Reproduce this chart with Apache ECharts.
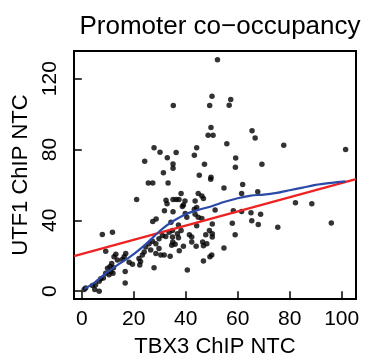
<!DOCTYPE html>
<html>
<head>
<meta charset="utf-8">
<script src="https://cdn.jsdelivr.net/npm/echarts@6/dist/echarts.min.js"></script>
<style>html,body{margin:0;padding:0;background:#fff}#c{width:366px;height:363px}</style>
</head>
<body>
<div id="c"></div>
<script>
const titleText = 'Promoter co\u2212occupancy';
const xName = 'TBX3 ChIP NTC';
const yName = 'UTF1 ChIP NTC';
const xTicks = [0, 20, 40, 60, 80, 100];
const yTicks = [0, 40, 80, 120];

const pointX = [52.2,35.2,50.1,49.2,57.3,56.7,49.7,48.6,50.5,65.5,66.7,55.8,27.8,30.1,36.3,44.2,77.7,101.5,69.3,82.2,
88.5,68.8,75.4,96,47.2,59.2,59.1,49.7,32.9,24.2,43.3,35.1,35.1,31.4,45.2,49.6,25.6,27.3,33.2,21.1,
32.4,32.8,31.8,35.1,28.6,27.3,35.1,54.7,61.9,61.5,67.7,38.2,44.8,46.2,46.8,36.3,37.4,39.7,43.6,39.1,
38.7,44.2,43.3,51.3,58.3,65.1,39.8,40.4,43.6,44.8,46.2,37.2,50.2,57.9,65.4,67.9,44.2,36.8,38.2,37.2,
35,34.6,35.9,41.4,42.3,42.3,44,39.1,37.5,34,47.7,49.1,50.2,50.2,46.5,48.1,46.8,59,54.7,50,
49.3,46.8,40.6,7.9,11.8,9.2,13.1,12.4,16.9,16.3,15.6,13.7,11.5,10.9,9.9,12.2,11.2,12,9.2,10.5,
8.3,7.3,6.7,5.3,4.1,1.5,0.9,5,6.7,16.7,16.7,18.2,19.5,22,22.6,22.3,24,23.3,27.8,24.6,
25.9,27.2,28.5,29.7,31,32.3,33.6,34.9,26.5,28.5,29.7,30.4,31.7,34.9,34.3,61.5];
const pointY = [130.6,104.8,110,104.8,108.2,105,92.4,88,88,90.6,86.5,83.2,81,78.5,78.3,81,82.4,80,71.7,50,
49.4,43.5,36.1,38.5,71.7,75.2,70,64.3,75.4,73.3,76.7,71.8,69.4,66.8,65.4,63.2,61.1,61.1,61.1,51.8,
51.3,49.4,45.4,44.8,40.7,39.4,51.7,58.3,60.2,55.2,56.1,55.2,55.2,53.7,52.4,51.8,51.8,50.9,50.9,48.7,
47.8,47.2,46.3,45.9,45.4,44.3,43.9,41.7,43.5,41.7,41.1,37.4,38,38.3,39.8,37.6,37,32.4,34.3,30.2,
27.8,25.9,26.5,31.8,30.6,27.8,25.4,25.4,22.8,19.8,31.8,34.3,32.4,30.6,27.8,26.8,25.6,31.8,24.4,20.4,
19.4,17,12,32,33.3,22.6,20.9,19.4,21.3,19.4,17.9,17.6,15.7,13.9,12.9,13.3,11.1,10.2,10.2,9.3,
7.4,7,5.6,3.7,3.2,1.8,0.9,0.9,0,11.1,4.6,16.3,15.2,18.5,16.7,14.8,22.2,20.4,13.3,25,
26.8,28.2,26.8,29.6,31.5,30.9,33.3,34.3,23.2,21.3,24.1,20.4,20.4,30.6,38.9,45];

const fitX = [-3, 105.5];
const fitY = [19.8, 63.3];

const smoothX = [1, 5, 10, 15, 20, 25, 30, 35, 40, 45, 50, 55, 60, 65, 70, 75, 80, 85, 90, 95, 101.5];
const smoothY = [1.3, 5, 11, 16, 21, 27, 34, 39.5, 43.5, 46, 48, 50.5, 52.5, 54, 54.5, 55.5, 57, 58.5, 60, 61, 62];

const FONT = 'Liberation Sans, Arial, Helvetica, sans-serif';
const chart = echarts.init(document.getElementById('c'), null, {renderer: 'canvas'});
chart.setOption({
  animation: false,
  backgroundColor: '#ffffff',
  title: {
    text: titleText, left: 215, textAlign: 'center', top: 9,
    textStyle: {fontFamily: FONT, fontSize: 26, fontWeight: 'normal', color: '#000'}
  },
  grid: {left: 74, right: 10, top: 51, bottom: 60, show: true, borderColor: '#000', borderWidth: 2, backgroundColor: 'transparent'},
  xAxis: {
    type: 'value', min: -3, max: 105.5,
    name: xName, nameLocation: 'middle', nameGap: 37,
    nameTextStyle: {fontFamily: FONT, fontSize: 22, color: '#000'},
    axisLine: {show: false},
    axisTick: {show: true, length: 7, lineStyle: {color: '#000', width: 1.5}, customValues: xTicks},
    axisLabel: {fontFamily: FONT, fontSize: 21, color: '#000', margin: 10, customValues: xTicks},
    splitLine: {show: false}
  },
  yAxis: {
    type: 'value', min: -4.4, max: 135.6,
    name: yName, nameLocation: 'middle', nameGap: 40, nameRotate: 90,
    nameTextStyle: {fontFamily: FONT, fontSize: 22, color: '#000'},
    axisLine: {show: false},
    axisTick: {show: true, length: 7, lineStyle: {color: '#000', width: 1.5}, customValues: yTicks},
    axisLabel: {fontFamily: FONT, fontSize: 21, color: '#000', margin: 13, rotate: 90, customValues: yTicks},
    splitLine: {show: false}
  },
  series: [
    {
      type: 'scatter', symbol: 'circle', symbolSize: 5.5,
      itemStyle: {color: '#000'},
      data: pointX.map((x, i) => [x, pointY[i]]),
      z: 2
    },
    {
      type: 'line', symbol: 'none', clip: true,
      lineStyle: {color: '#ee2222', width: 2.2},
      data: fitX.map((x, i) => [x, fitY[i]]),
      z: 3
    },
    {
      type: 'line', symbol: 'none', smooth: 0.3, clip: true,
      lineStyle: {color: '#2b4aa8', width: 2.2},
      data: smoothX.map((x, i) => [x, smoothY[i]]),
      z: 4
    }
  ]
});
</script>
</body>
</html>
